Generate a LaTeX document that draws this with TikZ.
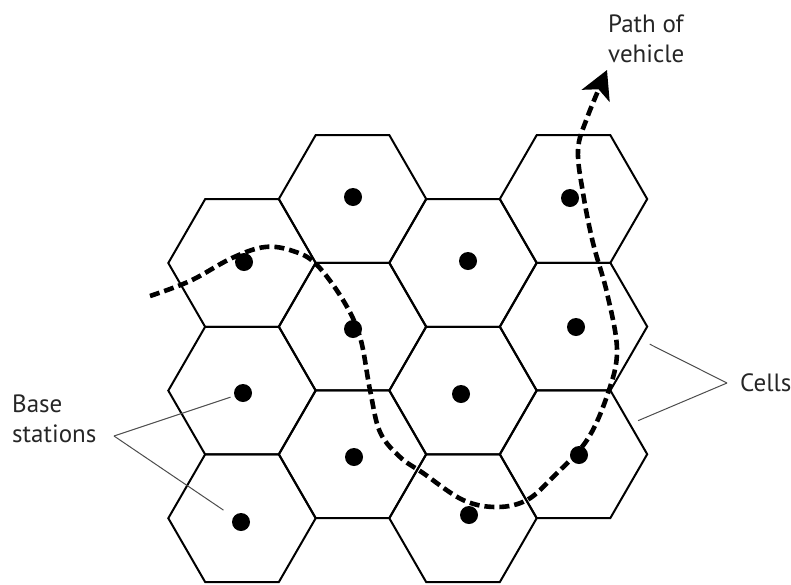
\documentclass[tikz,border=0pt]{standalone}
\usepackage{fontspec}
\setmainfont{PT Sans}
\usetikzlibrary{positioning, arrows.meta, shapes.geometric}

\begin{document}
\begin{tikzpicture}[
    x=1pt, y=-1pt,
    cell/.style={draw, regular polygon, regular polygon sides=6, minimum size=147.4pt, inner sep=0pt, line width=2pt},
    station/.style={circle, fill=black, minimum size=18pt, inner sep=0pt},
    lbl/.style={font=\fontsize{25}{30}\selectfont, text=black!85, align=left, inner sep=0pt},
    lead/.style={draw=black!70, line width=1pt},
    route/.style={line width=4.6pt, dash pattern=on 10pt off 5pt, -{Stealth[length=28pt, width=30pt, inset=7pt]}}
  ]
  \useasboundingbox (0,0) rectangle (791,584);

  % cells, odd columns sit half a cell lower
  \foreach \n/\x/\y in {11/242/263, 12/242/390.6, 13/242/518.2,
                        21/352.5/199, 22/352.5/326.6, 23/352.5/454.2,
                        31/463/263, 32/463/390.6, 33/463/518.2,
                        41/573.5/199, 42/573.5/326.6, 43/573.5/454.2}
    \node[cell] (cell\n) at (\x,\y) {};

  % path of vehicle
  \draw[route] plot[smooth, tension=0.6] coordinates {(150,296) (190,281) (232,258) (265,247) (293,251) (316,264) (343,300) (360,337) (370,390) (380,432) (400,457) (423,473) (463,500) (497,507) (527,500) (553,477) (587,440) (608,393) (617,350) (607,293) (593,243) (583,193) (578,150) (587,118) (607,70)};

  % base stations
  \foreach \n/\x/\y in {11/244/262, 12/243/393, 13/241/522,
                        21/353/197, 22/353/329, 23/354/457,
                        31/468/261, 32/461/394, 33/469/515,
                        41/570/198, 42/576/327, 43/579/455}
    \node[station] (bs\n) at (\x,\y) {};

  % labels
  \node[lbl, anchor=base west] (bslabel) at (12,442) {Base\\stations};
  \node[lbl, anchor=base west] (pathlabel) at (608,62) {Path of\\vehicle};
  \node[lbl, anchor=base west] (celllabel) at (740,391) {Cells};

  \coordinate (bsfork) at (114,436);
  \coordinate (cellfork) at (727,383);
  \draw[lead, shorten >=4pt] (bsfork) -- (bs12);
  \draw[lead, shorten >=12pt] (bsfork) -- (bs13);
  \draw[lead, shorten >=10pt] (cellfork) -- (cell42.-11);
  \draw[lead, shorten >=8pt] (cellfork) -- (cell43.28);
\end{tikzpicture}
\end{document}
